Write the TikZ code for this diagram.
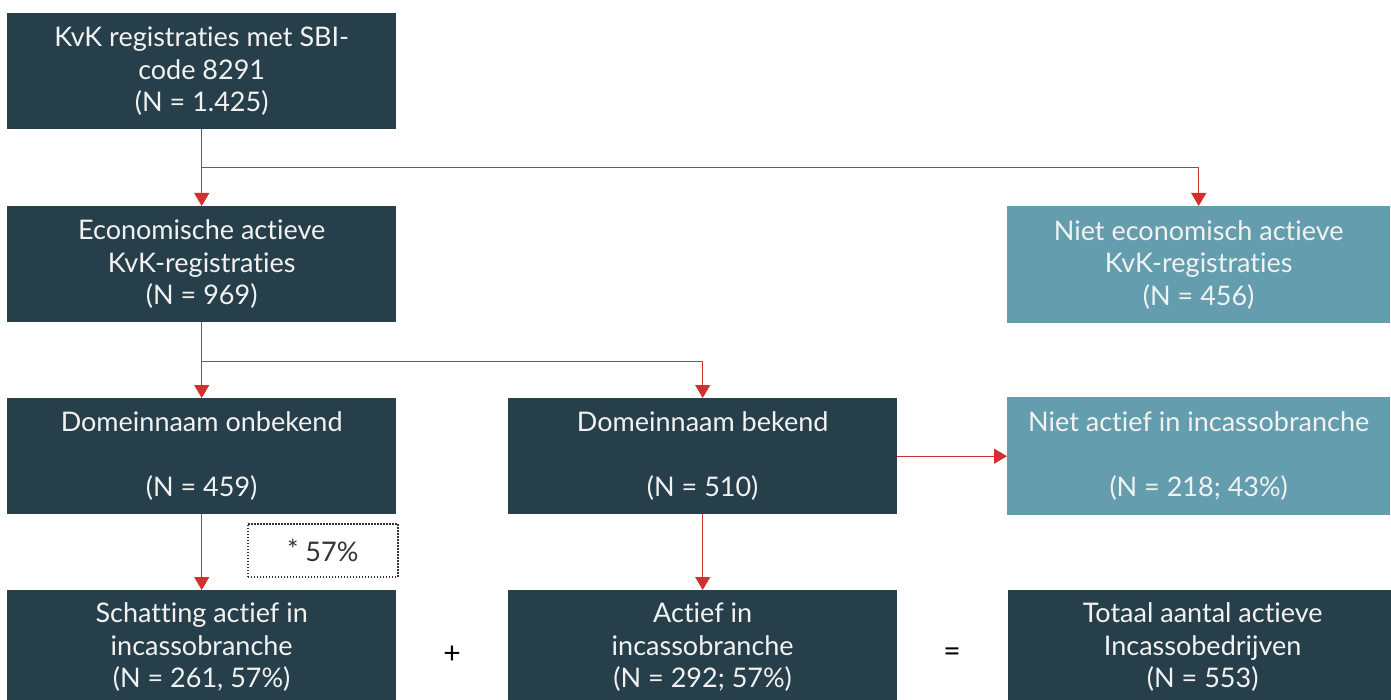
\documentclass[tikz,border=0pt]{standalone}
\usepackage{fontspec}
\setmainfont{Lato}[Ligatures={NoCommon,NoRare,NoDiscretionary}]
\usetikzlibrary{arrows.meta,calc}
\definecolor{darkbox}{HTML}{273F4A}
\definecolor{lightbox}{HTML}{649DAD}
\definecolor{boxtext}{HTML}{F2F2F2}
\definecolor{arrred}{HTML}{D32F2F}
\definecolor{txtdark}{HTML}{333333}
\begin{document}
\begin{tikzpicture}[x=1pt,y=-1pt,
  box/.style={anchor=north west,minimum width=389pt,minimum height=116pt,inner sep=0pt,
    align=center,text=boxtext,font=\fontsize{27}{32.5}\selectfont,
    execute at begin node={\rule{0pt}{33pt}}},
  dbox/.style={box,fill=darkbox},
  lbox/.style={box,fill=lightbox,minimum width=383pt},
  arr/.style={draw=arrred,line width=1.1pt,-{Triangle[length=13pt,width=15pt]}},
  note/.style={draw=txtdark,dash pattern=on 1.5pt off 1.5pt,line width=1.5pt,minimum width=150pt,minimum height=53pt,
    anchor=north west,inner sep=0pt,text=txtdark,font=\fontsize{27}{28}\selectfont},
  op/.style={text=black,font=\fontsize{30}{30}\selectfont,inner sep=0pt}]
\useasboundingbox[fill=white] (0,0) rectangle (1391,700);
\node[dbox] (b1) at (7,13) {KvK registraties met SBI-\\code 8291\\(N = 1.425)};
\node[dbox] (b2) at (7,206) {Economische actieve\\KvK-registraties\\(N = 969)};
\node[lbox,minimum height=117pt] (b3) at (1007,206) {Niet economisch actieve\\KvK-registraties\\(N = 456)};
\node[dbox] (b4) at (7,398) {Domeinnaam onbekend\\[32.5pt](N = 459)};
\node[dbox] (b5) at (508,398) {Domeinnaam bekend\\[32.5pt](N = 510)};
\node[lbox,minimum height=118pt] (b6) at (1007,397) {Niet actief in incassobranche\\[32.5pt](N = 218; 43\%)};
\node[dbox,minimum height=114pt] (b7) at (7,590) {Schatting actief in\\incassobranche\\(N = 261, 57\%)};
\node[dbox,minimum height=114pt] (b8) at (508,590) {Actief in\\incassobranche\\(N = 292; 57\%)};
\node[dbox,minimum height=114pt] (b9) at (1008,590) {Totaal aantal actieve\\Incassobedrijven\\(N = 553)};
\node[note] (n1) at (247,523) {\raisebox{2pt}{*} 57\%};
\node[op] (plus) at (452,655) {+};
\node[op] (eq) at (952,655) {=};
\coordinate (j1) at ($(b1.south)!0.5!(b2.north)$);
\coordinate (j2) at ($(b2.south)!0.52!(b4.north)$);
\draw[arr] (b1.south) -- (b2.north);
\draw[arr] (j1) -| (b3.north);
\draw[arr] (b2.south) -- (b4.north);
\draw[arr] (j2) -| (b5.north);
\draw[arr] (b5.east) -- (b6.west);
\draw[arr] (b4.south) -- (b7.north);
\draw[arr] (b5.south) -- (b8.north);
\end{tikzpicture}
\end{document}
